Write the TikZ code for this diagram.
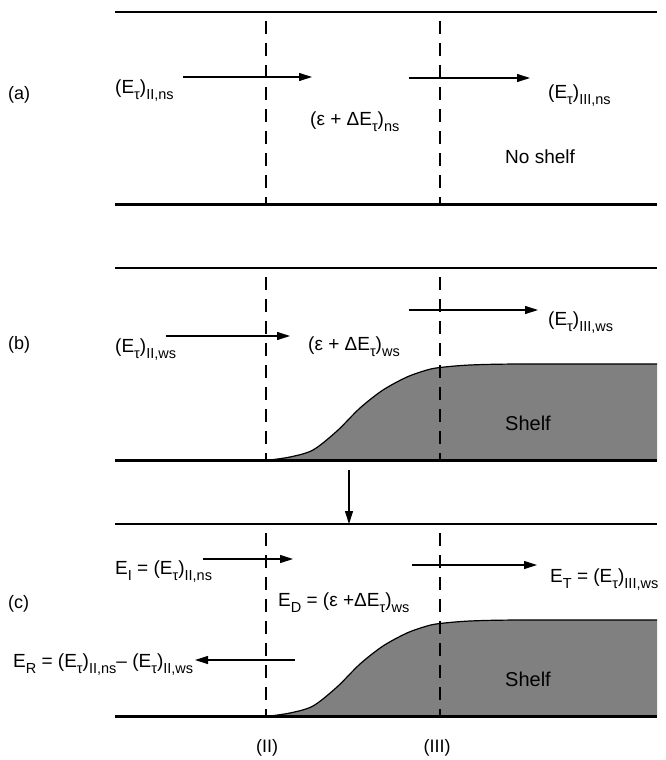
\documentclass[tikz,border=0pt]{standalone}
\usepackage{fontspec}
\setmainfont{Liberation Sans}
\usetikzlibrary{arrows.meta}
\newcommand{\low}[1]{\raisebox{-6.5pt}{\fontsize{14.5}{14.5}\selectfont #1}}
\newcommand{\Et}{(E\low{τ})}

\begin{document}
\begin{tikzpicture}[x=1pt,y=-1pt,>={Triangle[length=13pt,width=8pt]},
  lbl/.style={anchor=base west,inner sep=0pt,font=\fontsize{19}{19}\selectfont},
  tag/.style={inner sep=0pt,font=\fontsize{18}{18}\selectfont},
  flux/.style={->,line width=1.1pt},
  wall/.style={line width=2.6pt},
  cut/.style={line width=1.2pt,dash pattern=on 13pt off 9pt,dash phase=13pt},
  shelf/.style={fill=black!50}]
  \useasboundingbox (0,0) rectangle (666,760);
  % shelf in (b) and (c)
  \foreach \off in {0,256}{
    \begin{scope}[yshift=-\off pt]
      \fill[shelf] plot[smooth] coordinates {(266,460.5) (290,457) (313,450) (337,431) (360,408) (383,390) (407,377) (427,370) (440,367.5) (470,365) (520,364) (657,364)} -- (657,460.5) -- cycle;
      \draw[line width=1.2pt] plot[smooth] coordinates {(266,460.5) (290,457) (313,450) (337,431) (360,408) (383,390) (407,377) (427,370) (440,367.5) (470,365) (520,364) (657,364)};
    \end{scope}
  }
  % channel walls and sections (II), (III)
  \foreach \off in {0,256,512}{
    \draw[wall] (115,12+\off) -- (657,12+\off);
    \draw[wall] (115,204.5+\off) -- (657,204.5+\off);
    \draw[cut] (266,12+\off) -- (266,204.5+\off);
    \draw[cut] (440,12+\off) -- (440,204.5+\off);
  }
  % (a) no shelf
  \node[tag,anchor=west] (tagA) at (8,95) {(a)};
  \node[lbl] (inA) at (115,93) {\Et\low{II,ns}};
  \node[lbl] (midA) at (310,125) {(ε + ΔE\low{τ})\low{ns}};
  \node[lbl] (outA) at (548,98) {\Et\low{III,ns}};
  \node[lbl] (noshelf) at (505,163) {No shelf};
  \draw[flux] (183,77) -- (312,77);
  \draw[flux] (409,78) -- (530,78);
  % (b) with shelf
  \node[tag,anchor=west] (tagB) at (8,345) {(b)};
  \node[lbl] (inB) at (115,352) {\Et\low{II,ws}};
  \node[lbl] (midB) at (308,350) {(ε + ΔE\low{τ})\low{ws}};
  \node[lbl] (outB) at (548,325) {\Et\low{III,ws}};
  \node[lbl,font=\fontsize{20}{20}\selectfont] (shelfB) at (505,430) {Shelf};
  \draw[flux] (166,336) -- (290,336);
  \draw[flux] (409,310) -- (538,310);
  \draw[flux] (349,470) -- (349,524);
  % (c) balance
  \node[tag,anchor=west] (tagC) at (8,604) {(c)};
  \node[lbl] (inC) at (115,574) {E\low{I} = \Et\low{II,ns}};
  \node[lbl] (midC) at (278,606) {E\low{D} = (ε +ΔE\low{τ})\low{ws}};
  \node[lbl] (outC) at (550,582) {E\low{T} = \Et\low{III,ws}};
  \node[lbl] (refl) at (13,667) {E\low{R} = \Et\low{II,ns}– \Et\low{II,ws}};
  \node[lbl,font=\fontsize{20}{20}\selectfont] (shelfC) at (505,686) {Shelf};
  \draw[flux] (203,559) -- (293,559);
  \draw[flux] (412,565) -- (537,565);
  \draw[flux] (295,660) -- (195,660);
  \node[tag] (secII) at (267,748) {(II)};
  \node[tag] (secIII) at (437,748) {(III)};
\end{tikzpicture}
\end{document}
